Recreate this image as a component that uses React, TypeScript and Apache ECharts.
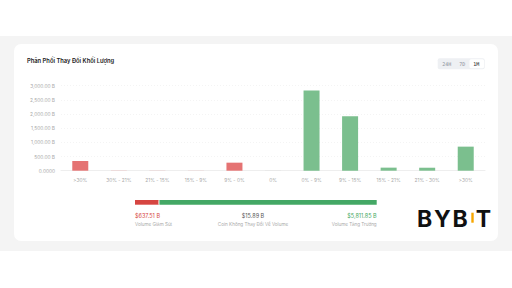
import React, { useEffect, useRef } from "react";
import * as echarts from "echarts";

const categories = [">30%", "30% - 21%", "21% - 15%", "15% - 9%", "9% - 0%", "0%", "0% - 9%", "9% - 15%", "15% - 21%", "21% - 30%", ">30%"];
const volumes = [342, 5, 4, 3, 283.5, 15.89, 2830, 1920, 108, 105, 849];
const barKinds = ["down", "down", "down", "down", "down", "flat", "up", "up", "up", "up", "up"];
const yTicks = [0, 500, 1000, 1500, 2000, 2500, 3000];
const summaryValues = [637.51, 15.89, 5811.85];
const summaryLabels = ["Volume Giảm Sút", "Coin Không Thay Đổi Về Volume", "Volume Tăng Trưởng"];
const periods = ["24H", "7D", "1M"];

const RED = "#e57373";
const GREEN = "#7bbf8e";
const GRAY = "#e3e3e3";
const FONT = "Inter, 'Noto Sans', sans-serif";

function fmtB(v: number) {
  return v.toLocaleString("en-US", { minimumFractionDigits: 2, maximumFractionDigits: 2 }) + " B";
}

export default function App() {
  const ref = useRef<HTMLDivElement>(null);
  useEffect(() => {
    document.body.style.margin = "0";
    const chart = echarts.init(ref.current!, null, { renderer: "svg" });
    const total = summaryValues.reduce((a, b) => a + b, 0);
    const colorOf = (k: string) => (k === "down" ? RED : k === "up" ? GREEN : GRAY);
    const logoLetters = [
      { t: "B", x: 424.5 },
      { t: "Y", x: 442.5 },
      { t: "B", x: 460.2 },
      { t: "T", x: 483.3 },
    ];
    const option: any = {
      animation: false,
      backgroundColor: "#ffffff",
      textStyle: { fontFamily: FONT },
      grid: [
        { left: 61, right: 27, top: 85.7, bottom: 117.3 },
        { left: 135, width: 241.7, top: 200, height: 4.7 },
      ],
      xAxis: [
        {
          gridIndex: 0,
          type: "category",
          data: categories,
          axisLine: { lineStyle: { color: "#eeeeee" } },
          axisTick: { show: false },
          axisLabel: { color: "#a8a8a8", fontSize: 4.8, margin: 7, interval: 0, fontFamily: FONT },
        },
        { gridIndex: 1, type: "value", min: 0, max: total, show: false },
      ],
      yAxis: [
        {
          gridIndex: 0,
          type: "value",
          min: 0,
          max: yTicks[yTicks.length - 1],
          interval: yTicks[1] - yTicks[0],
          axisLine: { show: false },
          axisTick: { show: false },
          splitLine: { lineStyle: { color: "#ececec", type: [1, 2], width: 0.6 } },
          axisLabel: {
            color: "#a8a8a8",
            fontSize: 4.8,
            margin: 6,
            fontFamily: FONT,
            formatter: (v: number) => (v === 0 ? "0.0000" : fmtB(v)),
          },
        },
        { gridIndex: 1, type: "category", data: ["v"], show: false },
      ],
      series: [
        {
          type: "bar",
          xAxisIndex: 0,
          yAxisIndex: 0,
          barWidth: 16,
          data: volumes.map((v, i) => ({ value: v, itemStyle: { color: colorOf(barKinds[i]) } })),
        },
        {
          type: "bar", xAxisIndex: 1, yAxisIndex: 1, stack: "s", barWidth: 4.7,
          data: [summaryValues[0]], itemStyle: { color: "#d64541" },
        },
        {
          type: "bar", xAxisIndex: 1, yAxisIndex: 1, stack: "s", barWidth: 4.7,
          data: [summaryValues[1]], itemStyle: { color: "#e8e8e8", borderColor: "#ffffff", borderWidth: 1.2 },
        },
        {
          type: "bar", xAxisIndex: 1, yAxisIndex: 1, stack: "s", barWidth: 4.7,
          data: [summaryValues[2]], itemStyle: { color: "#44a865" },
        },
      ],
      graphic: [
        { type: "rect", z: -10, shape: { x: 0, y: 0, width: 512, height: 36 }, style: { fill: "#ffffff" } },
        { type: "rect", z: -10, shape: { x: 0, y: 36, width: 512, height: 215 }, style: { fill: "#f4f4f4" } },
        { type: "rect", z: -9, shape: { x: 14, y: 44, width: 484, height: 197, r: 7 }, style: { fill: "#ffffff" } },
        {
          type: "text", left: 27, top: 57,
          style: { text: "Phân Phối Thay Đổi Khối Lượng", fontSize: 5.8, fontWeight: 600, fill: "#222", fontFamily: FONT },
        },
        { type: "rect", shape: { x: 437.7, y: 58.3, width: 47, height: 11, r: 2 }, style: { fill: "#eef0f3" } },
        { type: "rect", shape: { x: 469.5, y: 59.3, width: 14.5, height: 9, r: 1.5 }, style: { fill: "#ffffff" } },
        ...periods.map((p, i) => ({
          type: "text",
          x: [446.7, 462.3, 476.3][i],
          y: 63.8,
          style: {
            text: p, fontSize: 5, fill: i === 2 ? "#222222" : "#8a8f99",
            fontFamily: "'DejaVu Sans Mono', monospace", align: "center", verticalAlign: "middle",
          },
        })),
        {
          type: "text", x: 135, y: 215.5,
          style: { text: "$" + fmtB(summaryValues[0]), fontSize: 5.5, fill: "#d64541", fontFamily: FONT, verticalAlign: "middle" },
        },
        {
          type: "text", x: 253, y: 215.5,
          style: { text: "$" + fmtB(summaryValues[1]), fontSize: 5.5, fill: "#555", fontFamily: FONT, align: "center", verticalAlign: "middle" },
        },
        {
          type: "text", x: 376.7, y: 215.5,
          style: { text: "$" + fmtB(summaryValues[2]), fontSize: 5.5, fill: "#3fa862", fontFamily: FONT, align: "right", verticalAlign: "middle" },
        },
        {
          type: "text", x: 135, y: 224.5,
          style: { text: summaryLabels[0], fontSize: 4.6, fill: "#aaa", fontFamily: FONT, verticalAlign: "middle" },
        },
        {
          type: "text", x: 253, y: 224.5,
          style: { text: summaryLabels[1], fontSize: 4.6, fill: "#aaa", fontFamily: FONT, align: "center", verticalAlign: "middle" },
        },
        {
          type: "text", x: 376.7, y: 224.5,
          style: { text: summaryLabels[2], fontSize: 4.6, fill: "#aaa", fontFamily: FONT, align: "right", verticalAlign: "middle" },
        },
        ...logoLetters.map((l) => ({
          type: "text", x: l.x, y: 230.5,
          style: { text: l.t, fontSize: 23, fontWeight: 700, fill: "#111", fontFamily: FONT, align: "center", verticalAlign: "bottom" },
        })),
        { type: "rect", shape: { x: 471.3, y: 212.7, width: 2.4, height: 10 }, style: { fill: "#f7a600" } },
      ],
    };
    chart.setOption(option);
    return () => chart.dispose();
  }, []);
  return <div ref={ref} style={{ position: "absolute", left: 0, top: 0, width: 512, height: 288 }} />;
}
